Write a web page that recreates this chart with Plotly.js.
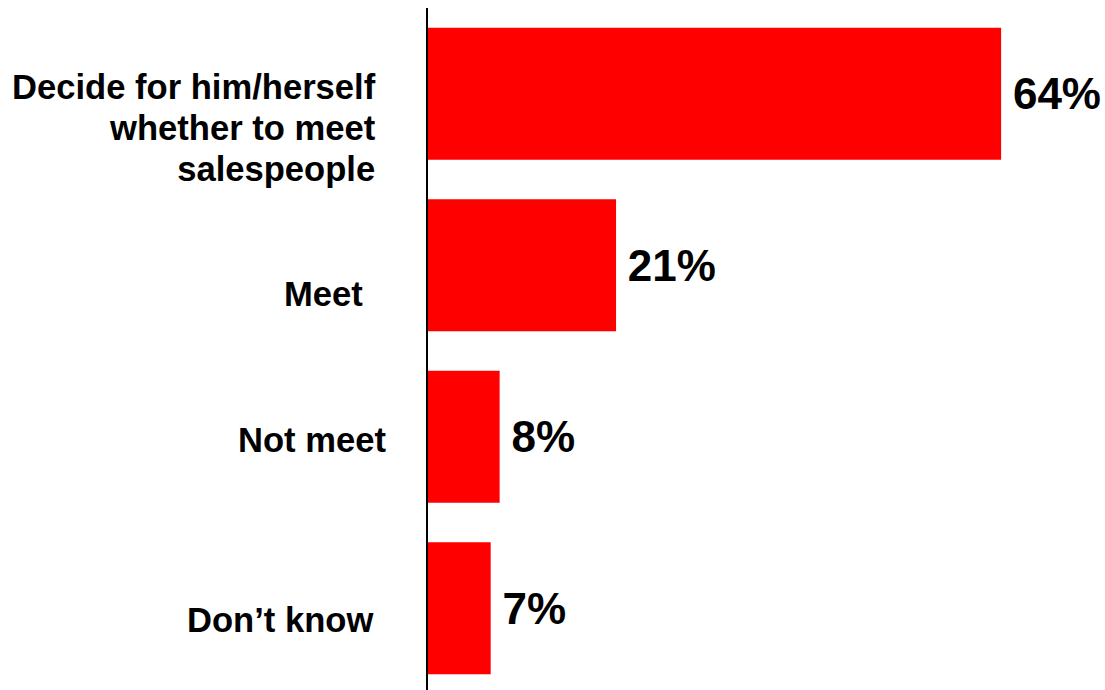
<!DOCTYPE html>
<html>
<head>
<meta charset="utf-8">
<script src="https://cdn.plot.ly/plotly-3.0.1.min.js"></script>
<style>html,body{margin:0;padding:0;background:#fff;}#chart{width:1105px;height:690px;}</style>
</head>
<body>
<div id="chart"></div>
<script>
// Data
const categories = [
  "Decide for him/herself<br>whether to meet<br>salespeople",
  "Meet",
  "Not meet",
  "Don\u2019t know"
];
const values = [64, 21, 8, 7];

// Label placement styles (pixel offsets relative to the axis line / bar centre)
const labelXShift = [-50, -63, -40, -53];
const labelYShift = [-34, -29, -3, -12];

const FONT = "'Liberation Sans', Arial, sans-serif";

const trace = {
  type: "bar",
  orientation: "h",
  x: values,
  y: categories,
  marker: {color: "#ff0000", line: {width: 0}},
  text: values.map(v => v + "%"),
  texttemplate: "\u2009%{text}",
  textposition: "outside",
  constraintext: "none",
  cliponaxis: false,
  textfont: {family: FONT, size: 44, color: "#000", weight: "bold"},
  hoverinfo: "skip"
};

const annotations = categories.map((c, i) => ({
  xref: "paper", yref: "y",
  x: 0, y: c,
  text: c.split("<br>").map(s => '<span style="font-size:34.6px"><b>' + s + '</b></span>').join("<br>"),
  showarrow: false,
  xanchor: "right", yanchor: "middle",
  align: "right",
  xshift: labelXShift[i],
  yshift: labelYShift[i],
  font: {family: FONT, size: 31.5, color: "#000"}
}));

const layout = {
  width: 1105, height: 690,
  margin: {l: 428, r: 0, t: 8, b: 0, pad: 0},
  paper_bgcolor: "#fff", plot_bgcolor: "#fff",
  showlegend: false,
  bargap: 0.23,
  xaxis: {range: [0, 75.6], visible: false, fixedrange: true},
  yaxis: {
    type: "category",
    range: [3.477, -0.5],
    autorange: false,
    showticklabels: false,
    ticks: "",
    showgrid: false,
    zeroline: false,
    showline: true,
    linecolor: "#000",
    linewidth: 2
  },
  annotations: annotations,
  font: {family: FONT}
};

Plotly.newPlot("chart", [trace], layout, {displayModeBar: false, staticPlot: true});
</script>
</body>
</html>
